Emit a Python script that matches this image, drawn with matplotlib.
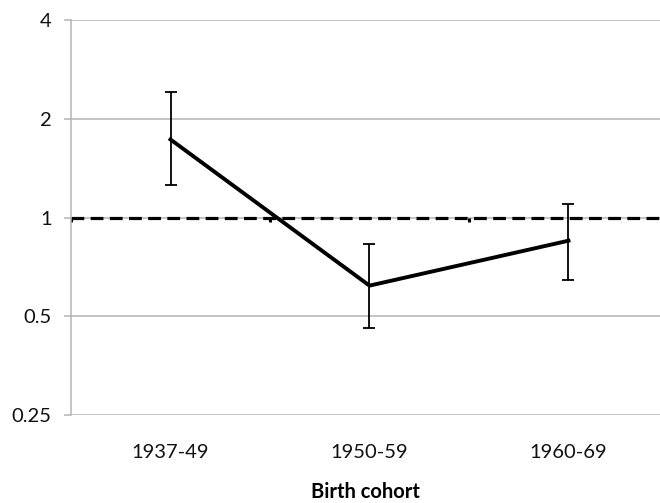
import matplotlib.pyplot as plt
import numpy as np

plt.rcParams['font.family'] = ['Lato', 'DejaVu Sans']

cohorts = ['1937-49', '1950-59', '1960-69']
ratio = [1.73, 0.62, 0.85]
lower = [1.26, 0.46, 0.645]
upper = [2.41, 0.83, 1.10]
yticks = [0.25, 0.5, 1, 2, 4]
ytick_labels = ['0.25', '0.5', '1', '2', '4']

x = np.arange(len(cohorts))
err = [np.array(ratio) - np.array(lower), np.array(upper) - np.array(ratio)]

fig = plt.figure(figsize=(6.6, 5.03), dpi=100)
ax = fig.add_axes([0.1076, 0.175, 0.8924, 0.785])

ax.set_yscale('log', base=2)
ax.set_ylim(0.25, 4)
ax.set_xlim(-0.5, 2.46)

# grid
for yv in yticks:
    ax.axhline(yv, color='#b4b4b4', lw=1.1, zorder=1)

# reference line at 1
ax.axhline(1, color='black', lw=2.3, linestyle=(0, (4, 2)), zorder=2)
# small tick marks on the reference line at category boundaries
bounds = np.arange(len(cohorts)) - 0.5
ax.vlines(bounds, 0.97, 1.0, color='black', lw=2.2, zorder=2)

ax.errorbar(x, ratio, yerr=err, color='black', lw=2.8, ecolor='black',
            elinewidth=1.3, capsize=4, capthick=1.3, zorder=3)

ax.set_yticks(yticks)
ax.set_yticklabels(ytick_labels)
ax.yaxis.set_minor_locator(plt.NullLocator())
ax.set_xticks(x)
ax.set_xticklabels(cohorts)

for s in ['top', 'right', 'bottom']:
    ax.spines[s].set_visible(False)
ax.spines['left'].set_color('#b4b4b4')
ax.spines['left'].set_linewidth(1.1)

ax.tick_params(axis='y', length=5, width=1.1, color='#b4b4b4', pad=9,
               labelsize=14.5, labelcolor='#111111')
ax.tick_params(axis='x', length=0, pad=21, labelsize=14.5, labelcolor='#111111')
ax.set_xlabel('Birth cohort', fontsize=14.5, fontweight='bold', labelpad=15)

fig.savefig('out.png', dpi=100)
